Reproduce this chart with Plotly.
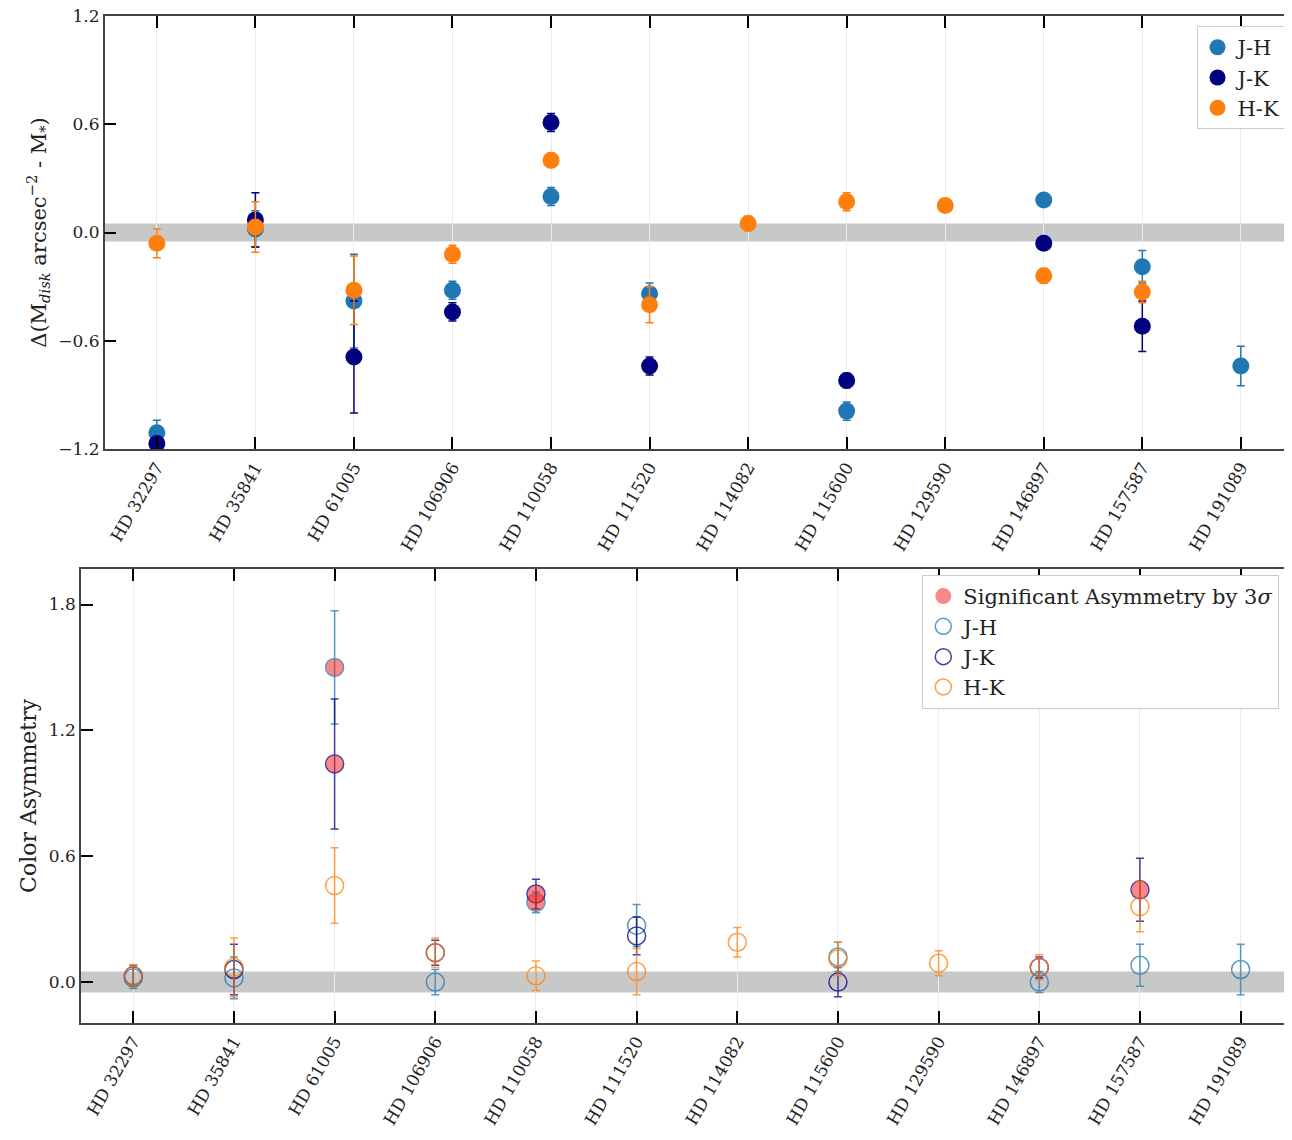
import plotly.graph_objects as go

# stars along the x axis
stars = ["HD 32297", "HD 35841", "HD 61005", "HD 106906", "HD 110058", "HD 111520",
         "HD 114082", "HD 115600", "HD 129590", "HD 146897", "HD 157587", "HD 191089"]

# top panel: Delta(M_disk arcsec^-2 - M_*)
jh_top = [-1.11, 0.02, -0.38, -0.32, 0.20, -0.34, None, -0.99, None, 0.18, -0.19, -0.74]
jh_top_err = [0.07, 0.10, 0.26, 0.05, 0.05, 0.06, None, 0.05, None, 0.03, 0.09, 0.11]
jk_top = [-1.17, 0.07, -0.69, -0.44, 0.61, -0.74, None, -0.82, None, -0.06, -0.52, None]
jk_top_err = [0.02, 0.15, 0.31, 0.05, 0.05, 0.05, None, 0.04, None, 0.03, 0.14, None]
hk_top = [-0.06, 0.03, -0.32, -0.12, 0.40, -0.40, 0.05, 0.17, 0.15, -0.24, -0.33, None]
hk_top_err = [0.08, 0.14, 0.19, 0.05, 0.04, 0.10, 0.04, 0.05, 0.03, 0.04, 0.06, None]

# bottom panel: colour asymmetry
jh_bot = [0.02, 0.02, 1.50, 0.00, 0.38, 0.27, None, 0.12, None, 0.00, 0.08, 0.06]
jh_bot_err = [0.05, 0.10, 0.27, 0.06, 0.05, 0.10, None, 0.07, None, 0.05, 0.10, 0.12]
jk_bot = [0.03, 0.06, 1.04, 0.14, 0.42, 0.22, None, 0.00, None, 0.07, 0.44, None]
jk_bot_err = [0.05, 0.12, 0.31, 0.06, 0.07, 0.09, None, 0.07, None, 0.05, 0.15, None]
hk_bot = [0.03, 0.07, 0.46, 0.14, 0.03, 0.05, 0.19, 0.11, 0.09, 0.07, 0.36, None]
hk_bot_err = [0.05, 0.14, 0.18, 0.07, 0.07, 0.11, 0.07, 0.08, 0.06, 0.06, 0.12, None]
# significant by 3 sigma (per series)
jh_sig = [0, 0, 1, 0, 1, 0, 0, 0, 0, 0, 0, 0]
jk_sig = [0, 0, 1, 0, 1, 0, 0, 0, 0, 0, 1, 0]

C_JH = "#1f77b4"
C_JK = "#000080"
C_HK = "#ff7f0e"
FONT = "DejaVu Serif"

fig = go.Figure()

# grey band around zero
fig.add_shape(type="rect", xref="x domain", yref="y", x0=0, x1=1, y0=-0.05, y1=0.05,
              fillcolor="#c8c8c8", line_width=0, layer="below")
fig.add_shape(type="rect", xref="x2 domain", yref="y2", x0=0, x1=1, y0=-0.05, y1=0.05,
              fillcolor="#c8c8c8", line_width=0, layer="below")

for name, y, e, c in [("J-H", jh_top, jh_top_err, C_JH), ("J-K", jk_top, jk_top_err, C_JK),
                      ("H-K", hk_top, hk_top_err, C_HK)]:
    fig.add_trace(go.Scatter(x=stars, y=y, mode="markers", name=name, legend="legend",
                             marker=dict(color=c, size=17),
                             error_y=dict(type="data", array=e, color=c, thickness=1.5, width=4)))

for name, y, e, c in [("J-H", jh_bot, jh_bot_err, C_JH), ("J-K", jk_bot, jk_bot_err, C_JK),
                      ("H-K", hk_bot, hk_bot_err, C_HK)]:
    fig.add_trace(go.Scatter(x=stars, y=y, mode="markers", name=name, legend="legend2",
                             xaxis="x2", yaxis="y2", opacity=0.75,
                             marker=dict(color="rgba(0,0,0,0)", size=18, line=dict(color=c, width=1.5)),
                             error_y=dict(type="data", array=e, color=c, thickness=1.5, width=4)))

sx, sy = [], []
for vals, flags in [(jh_bot, jh_sig), (jk_bot, jk_sig)]:
    for s, v, f in zip(stars, vals, flags):
        if f:
            sx.append(s)
            sy.append(v)
fig.add_trace(go.Scatter(x=sx, y=sy, mode="markers", name="Significant Asymmetry by 3<i>σ</i>",
                         legend="legend2", xaxis="x2", yaxis="y2", legendrank=1,
                         marker=dict(color="rgba(240,40,40,0.55)", size=17)))

axis_common = dict(showline=True, linecolor="#444", linewidth=1.5, mirror="allticks", ticks="inside",
                   ticklen=12, tickwidth=2, tickcolor="black", zeroline=False, automargin=False,
                   ticklabeloverflow="allow",
                   tickfont=dict(family=FONT, size=17, color="#222"))
xcommon = dict(axis_common, showgrid=True, gridcolor="#ebebeb", tickangle=-60,
               categoryorder="array", categoryarray=stars)

fig.update_layout(
    width=1292, height=1140, plot_bgcolor="white", paper_bgcolor="white",
    margin=dict(l=43, r=2, t=8, b=125),
    font=dict(family=FONT, size=16, color="#222"),
    xaxis=dict(xcommon, domain=[0.043, 1], anchor="y", range=[-0.53, 11.58]),
    yaxis=dict(axis_common, domain=[0.570, 1], anchor="x", range=[-1.2, 1.2],
               tickvals=[-1.2, -0.6, 0, 0.6, 1.2],
               ticktext=["−1.2", "−0.6", "0.0", "0.6", "1.2"], showgrid=False,
               title=dict(text="Δ(M<sub><i>disk</i></sub> arcsec<sup>−2</sup> - M<sub>*</sub>)",
                          font=dict(size=21), standoff=6)),
    xaxis2=dict(xcommon, domain=[0.024, 1], anchor="y2", range=[-0.52, 11.57]),
    yaxis2=dict(axis_common, domain=[0, 0.451], anchor="x2", range=[-0.195, 1.97],
                tickvals=[0, 0.6, 1.2, 1.8],
                ticktext=["0.0", "0.6", "1.2", "1.8"], showgrid=False,
                title=dict(text="Color Asymmetry", font=dict(size=22), standoff=6)),
    legend=dict(x=0.99, y=0.99, xanchor="right", yanchor="top", bgcolor="white",
                bordercolor="#ccc", borderwidth=1, font=dict(size=21), tracegroupgap=4),
    legend2=dict(x=0.985, y=0.445, xanchor="right", yanchor="top", bgcolor="white",
                 bordercolor="#ccc", borderwidth=1, font=dict(size=21)),
)

fig.write_html("out.html")
